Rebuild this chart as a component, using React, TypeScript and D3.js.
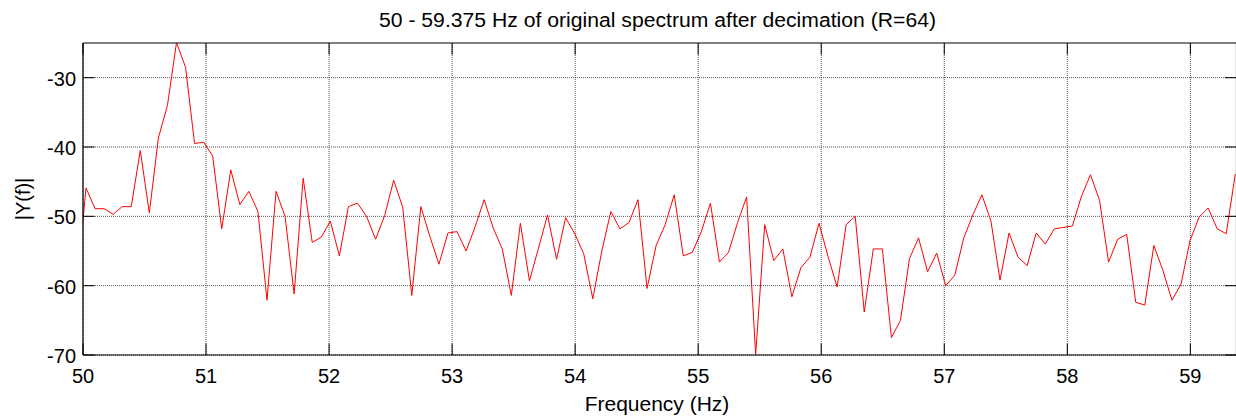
import React from 'react';
import * as d3 from 'd3';

// |Y(f)| in dB; the first sample sits just left of 50 Hz and is clipped by the axes
const magnitudeDb = [
  -60.0,
  -45.9, -48.9, -48.9, -49.7, -48.6, -48.6, -40.5, -49.5, -38.7, -34.0,
  -24.95, -28.5, -39.5, -39.3, -41.3, -51.8, -43.3, -48.3, -46.4, -49.3,
  -62.1, -46.4, -50.0, -61.2, -44.5, -53.75, -53.0, -50.7, -55.7, -48.6,
  -48.1, -50.0, -53.3, -49.9, -44.8, -48.7, -61.4, -48.6, -52.9, -56.9,
  -52.4, -52.2, -55.0, -51.5, -47.6, -51.7, -54.7, -61.4, -51.0, -59.3,
  -54.6, -49.8, -56.2, -50.2, -52.5, -55.4, -61.9, -55.0, -49.3, -51.8,
  -50.9, -47.6, -60.4, -54.2, -51.2, -46.9, -55.7, -55.2, -52.2, -48.1,
  -56.6, -55.2, -50.9, -47.2, -69.9, -51.2, -56.4, -54.7, -61.6, -57.4,
  -55.9, -51.0, -55.8, -60.2, -51.2, -50.0, -63.8, -54.7, -54.7, -67.5,
  -65.0, -56.1, -53.1, -58.0, -55.3, -60.0, -58.5, -53.1, -49.8, -46.9,
  -50.7, -59.2, -52.4, -55.9, -57.1, -52.4, -54.0, -51.8, -51.6, -51.4,
  -47.1, -44.0, -47.7, -56.6, -53.3, -52.6, -62.4, -62.8, -54.2, -57.8,
  -62.1, -59.8, -53.5, -50.1, -48.8, -51.8, -52.5, -43.9,
];
const freqStartHz = 49.9508;
const freqStepHz = 0.07355;

const xTicks = [50, 51, 52, 53, 54, 55, 56, 57, 58, 59];
const yTicks = [-70, -60, -50, -40, -30];
const xDomain = [50, 59.375];
const yDomain = [-70, -25];

const titleText = '50 - 59.375 Hz of original spectrum after decimation (R=64)';
const xLabelText = 'Frequency (Hz)';
const yLabelText = '|Y(f)|';

const FONT = '"Liberation Sans", Arial, Helvetica, sans-serif';

export default function App() {
  const W = 1236;
  const H = 416;
  const L = 83;
  const R = 1236.5;
  const T = 43;
  const B = 355;
  const tickLen = 11.5;

  const x = d3.scaleLinear().domain(xDomain).range([L, R]);
  const y = d3.scaleLinear().domain(yDomain).range([B, T]);

  const pts: [number, number][] = magnitudeDb.map((v, i) => [freqStartHz + i * freqStepHz, v]);
  const linePath = d3
    .line<[number, number]>()
    .x((d) => x(d[0]))
    .y((d) => y(d[1]))(pts) as string;

  return (
    <svg
      width={W}
      height={H}
      style={{ position: 'absolute', left: 0, top: 0, background: '#fff' }}
      fontFamily={FONT}
    >
      <defs>
        <clipPath id="plotClip">
          <rect x={L} y={T} width={R - L} height={B - T} />
        </clipPath>
      </defs>
      <rect x={0} y={0} width={W} height={H} fill="#fff" />

      {/* grid */}
      <g stroke="#555" strokeWidth={1} strokeDasharray="1 1">
        {xTicks.map((t) => (
          <line key={'gx' + t} x1={x(t)} x2={x(t)} y1={T} y2={B} />
        ))}
        {yTicks.map((t) => (
          <line key={'gy' + t} x1={L} x2={R} y1={y(t)} y2={y(t)} />
        ))}
      </g>

      {/* data */}
      <path d={linePath} fill="none" stroke="#ff0000" strokeWidth={1} clipPath="url(#plotClip)" />

      {/* axes box */}
      <g stroke="#000" strokeWidth={1.2} fill="none">
        <line x1={L} x2={R} y1={T} y2={T} />
        <line x1={L} x2={R} y1={B} y2={B} />
        <line x1={L} x2={L} y1={T} y2={B} />
        <line x1={R} x2={R} y1={T} y2={B} />
      </g>

      {/* ticks */}
      <g stroke="#000" strokeWidth={1}>
        {xTicks.map((t) => (
          <g key={'tx' + t}>
            <line x1={x(t)} x2={x(t)} y1={B} y2={B - tickLen} />
            <line x1={x(t)} x2={x(t)} y1={T} y2={T + tickLen} />
          </g>
        ))}
        {yTicks.map((t) => (
          <g key={'ty' + t}>
            <line x1={L} x2={L + tickLen} y1={y(t)} y2={y(t)} />
            <line x1={R} x2={R - tickLen} y1={y(t)} y2={y(t)} />
          </g>
        ))}
      </g>

      {/* tick labels */}
      <g fontSize={20} fill="#000">
        {xTicks.map((t) => (
          <text key={'lx' + t} x={x(t)} y={383} textAnchor="middle">
            {t}
          </text>
        ))}
        {yTicks.map((t) => (
          <text key={'ly' + t} x={76} y={y(t) + 8} textAnchor="end">
            {t}
          </text>
        ))}
      </g>

      {/* title and labels */}
      <text
        x={657.5}
        y={27}
        textAnchor="middle"
        fontSize={19.5}
        textLength={557}
        lengthAdjust="spacingAndGlyphs"
        fill="#000"
      >
        {titleText}
      </text>
      <text x={657} y={411} textAnchor="middle" fontSize={21} fill="#000">
        {xLabelText}
      </text>
      <text
        transform={`translate(29.5, ${(T + B) / 2}) rotate(-90)`}
        textAnchor="middle"
        fontSize={20}
        fill="#000"
      >
        {yLabelText}
      </text>
    </svg>
  );
}
